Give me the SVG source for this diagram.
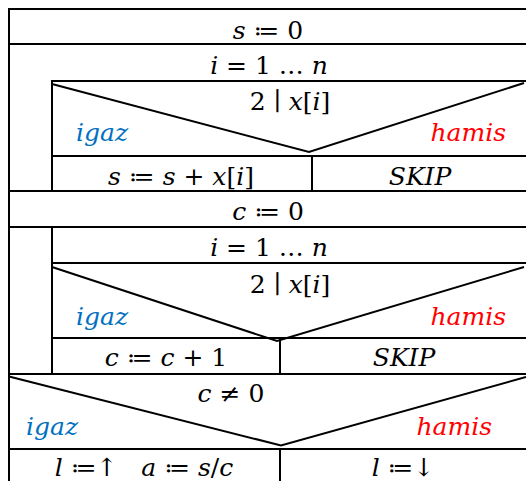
<svg xmlns="http://www.w3.org/2000/svg" width="526" height="481" viewBox="0 0 526 481">
<style>
.ln{stroke:#000;stroke-width:2;fill:none}
text{font-family:"DejaVu Serif","Liberation Serif",serif;font-size:25px;fill:#000;text-anchor:middle}
.i{font-style:italic}
.g{font-style:italic;fill:#0070C0;text-anchor:start}
.h{font-style:italic;fill:#FF0000;text-anchor:end}
</style>
<rect width="526" height="481" fill="#fff"/>
<g id="connectors" class="ln">
<line x1="9" y1="8" x2="9" y2="481"/>
<line x1="8" y1="9" x2="526" y2="9"/>
<line x1="9" y1="44" x2="526" y2="44"/>
<line x1="9" y1="191" x2="526" y2="191"/>
<line x1="9" y1="227" x2="526" y2="227"/>
<line x1="9" y1="374" x2="526" y2="374"/>
<line x1="9" y1="449" x2="526" y2="449"/>
</g>
<g id="n1"><text x="268" y="39"><tspan class="i">s</tspan> ≔ 0</text></g>
<g id="loop1" class="ln">
<line x1="52" y1="80" x2="52" y2="191"/>
<line x1="52" y1="81" x2="526" y2="81"/>
</g>
<g id="loop1-label"><text x="269" y="74"><tspan class="i">i</tspan> = 1 … <tspan class="i">n</tspan></text></g>
<g id="dec1">
<g class="ln">
<line x1="52" y1="156" x2="526" y2="156"/>
<polyline points="52,84 309,152 524,83"/>
<line x1="312" y1="156" x2="312" y2="191"/>
</g>
<text x="290" y="110">2 ∣ <tspan class="i">x</tspan>[<tspan class="i">i</tspan>]</text>
<text class="g" x="76" y="141">igaz</text>
<text class="h" x="506" y="141">hamis</text>
</g>
<g id="b1a"><text x="181" y="185"><tspan class="i">s</tspan> ≔ <tspan class="i">s</tspan> + <tspan class="i">x</tspan>[<tspan class="i">i</tspan>]</text></g>
<g id="b1b"><text class="i" x="420" y="185">SKIP</text></g>
<g id="n2"><text x="268" y="220"><tspan class="i">c</tspan> ≔ 0</text></g>
<g id="loop2" class="ln">
<line x1="52" y1="227" x2="52" y2="374"/>
<line x1="52" y1="263" x2="526" y2="263"/>
</g>
<g id="loop2-label"><text x="269" y="256"><tspan class="i">i</tspan> = 1 … <tspan class="i">n</tspan></text></g>
<g id="dec2">
<g class="ln">
<line x1="52" y1="338" x2="526" y2="338"/>
<polyline points="52,267 277,341 524,267"/>
<line x1="280" y1="338" x2="280" y2="374"/>
</g>
<text x="290" y="293">2 ∣ <tspan class="i">x</tspan>[<tspan class="i">i</tspan>]</text>
<text class="g" x="76" y="325">igaz</text>
<text class="h" x="506" y="325">hamis</text>
</g>
<g id="b2a"><text x="166" y="366"><tspan class="i">c</tspan> ≔ <tspan class="i">c</tspan> + 1</text></g>
<g id="b2b"><text class="i" x="404" y="366">SKIP</text></g>
<g id="dec3">
<g class="ln">
<polyline points="9,376.5 281,445.5 526,377"/>
<line x1="280" y1="449" x2="280" y2="481"/>
</g>
<text x="231" y="402"><tspan class="i">c</tspan> ≠ 0</text>
<text class="g" x="26" y="435">igaz</text>
<text class="h" x="492" y="435">hamis</text>
</g>
<g id="b3a"><text x="144" y="476" xml:space="preserve"><tspan class="i">l</tspan> ≔↑   <tspan class="i">a</tspan> ≔ <tspan class="i">s</tspan>/<tspan class="i">c</tspan></text></g>
<g id="b3b"><text x="403" y="476"><tspan class="i">l</tspan> ≔↓</text></g>
</svg>
